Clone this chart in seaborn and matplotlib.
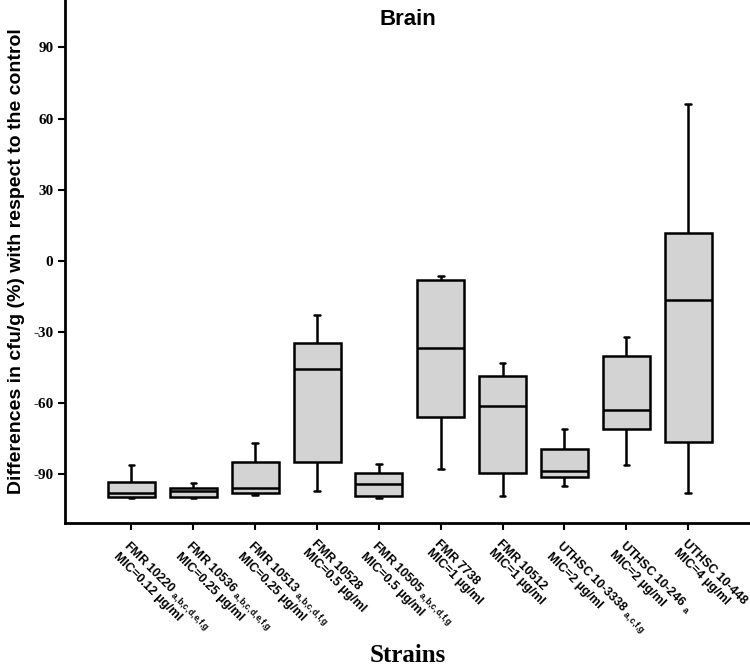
import pandas as pd
import matplotlib
matplotlib.use("Agg")
import matplotlib.pyplot as plt
import seaborn as sns

sns.set_theme(style="white")
plt.rcParams['font.family'] = ['Liberation Sans', 'DejaVu Sans']
plt.rcParams['mathtext.default'] = 'regular'
for key in ['text.color', 'axes.labelcolor', 'xtick.color', 'ytick.color']:
    plt.rcParams[key] = 'black'

# Strains and box statistics
strains = ["FMR 10220", "FMR 10536", "FMR 10513", "FMR 10528", "FMR 10505",
           "FMR 7738", "FMR 10512", "UTHSC 10-3338", "UTHSC 10-246", "UTHSC 10-448"]
signif = ["a,b,c,d,e,f,g", "a,b,c,d,e,f,g", "a,b,c,d,f,g", "", "a,b,c,d,f,g",
          "", "", "a,c,f,g", "a", ""]
mic = ["0.12", "0.25", "0.25", "0.5", "0.5", "1", "1", "2", "2", "4"]

whisker_low = [-100, -100, -98.6, -97, -100, -87.7, -99, -94.9, -86, -98]
q1 = [-99.5, -99.5, -97.8, -84.7, -99, -65.8, -89.4, -91, -70.8, -76.3]
median = [-97.8, -97, -95.7, -45.5, -94, -36.7, -61.1, -88.5, -62.8, -16.4]
q3 = [-93.2, -95.7, -84.7, -34.5, -89.4, -8, -48.5, -79.3, -40, 11.8]
whisker_high = [-86, -93.6, -77, -22.8, -85.6, -6.3, -43, -70.8, -32, 66.2]

# long table: five points per strain reproduce the box exactly
rows = []
for i, s in enumerate(strains):
    for v in (whisker_low[i], q1[i], median[i], q3[i], whisker_high[i]):
        rows.append({"strain": s, "value": v})
df = pd.DataFrame(rows)

fig = plt.figure(figsize=(7.5, 6.72), dpi=100)
ax = fig.add_axes([0.087, 0.222, 0.913, 0.778])

sns.boxplot(data=df, x="strain", y="value", order=strains, whis=(0, 100),
            width=0.76, color="#d3d3d3", linecolor="black", linewidth=1.8,
            capwidths=0.09, ax=ax,
            boxprops=dict(facecolor="#d3d3d3", edgecolor="black"))

ax.set_ylim(-110.5, 110)
ax.set_xlim(-1.07, 10.0)
yticks = [-90, -60, -30, 0, 30, 60, 90]
ax.set_yticks(yticks)
ax.set_yticklabels([str(t) for t in yticks],
                   family="Liberation Serif", fontweight="bold", fontsize=11)

labels = []
for s, g, m in zip(strains, signif, mic):
    sub = g.replace(",", "{,}")
    first = s + (" $_{\\mathregular{" + sub + "}}$" if g else "")
    labels.append(first + "\nMIC=" + m + " µg/ml")
ax.set_xticks(range(len(strains)))
ax.set_xticklabels(labels, rotation=-45, ha="left", va="top",
                   rotation_mode="anchor", fontsize=9, fontweight="bold",
                   linespacing=1.0)

ax.tick_params(axis="both", direction="out", length=5, width=1.5,
               color="black", left=True, bottom=True)
ax.tick_params(axis="x", pad=6)

for side in ["top", "right"]:
    ax.spines[side].set_visible(False)
for side in ["left", "bottom"]:
    ax.spines[side].set_color("black")
    ax.spines[side].set_linewidth(2)

ax.text(0.5, 0.982, "Brain", transform=ax.transAxes, ha="center", va="top",
        fontsize=16, fontweight="bold")
ax.set_ylabel("Differences in cfu/g (%) with respect to the control",
              fontsize=14, fontweight="bold", labelpad=6)
ax.set_xlabel("Strains", family="Liberation Serif", fontsize=18,
              fontweight="bold")
ax.xaxis.set_label_coords(0.5, -0.232)

fig.savefig("out.png", dpi=100)
